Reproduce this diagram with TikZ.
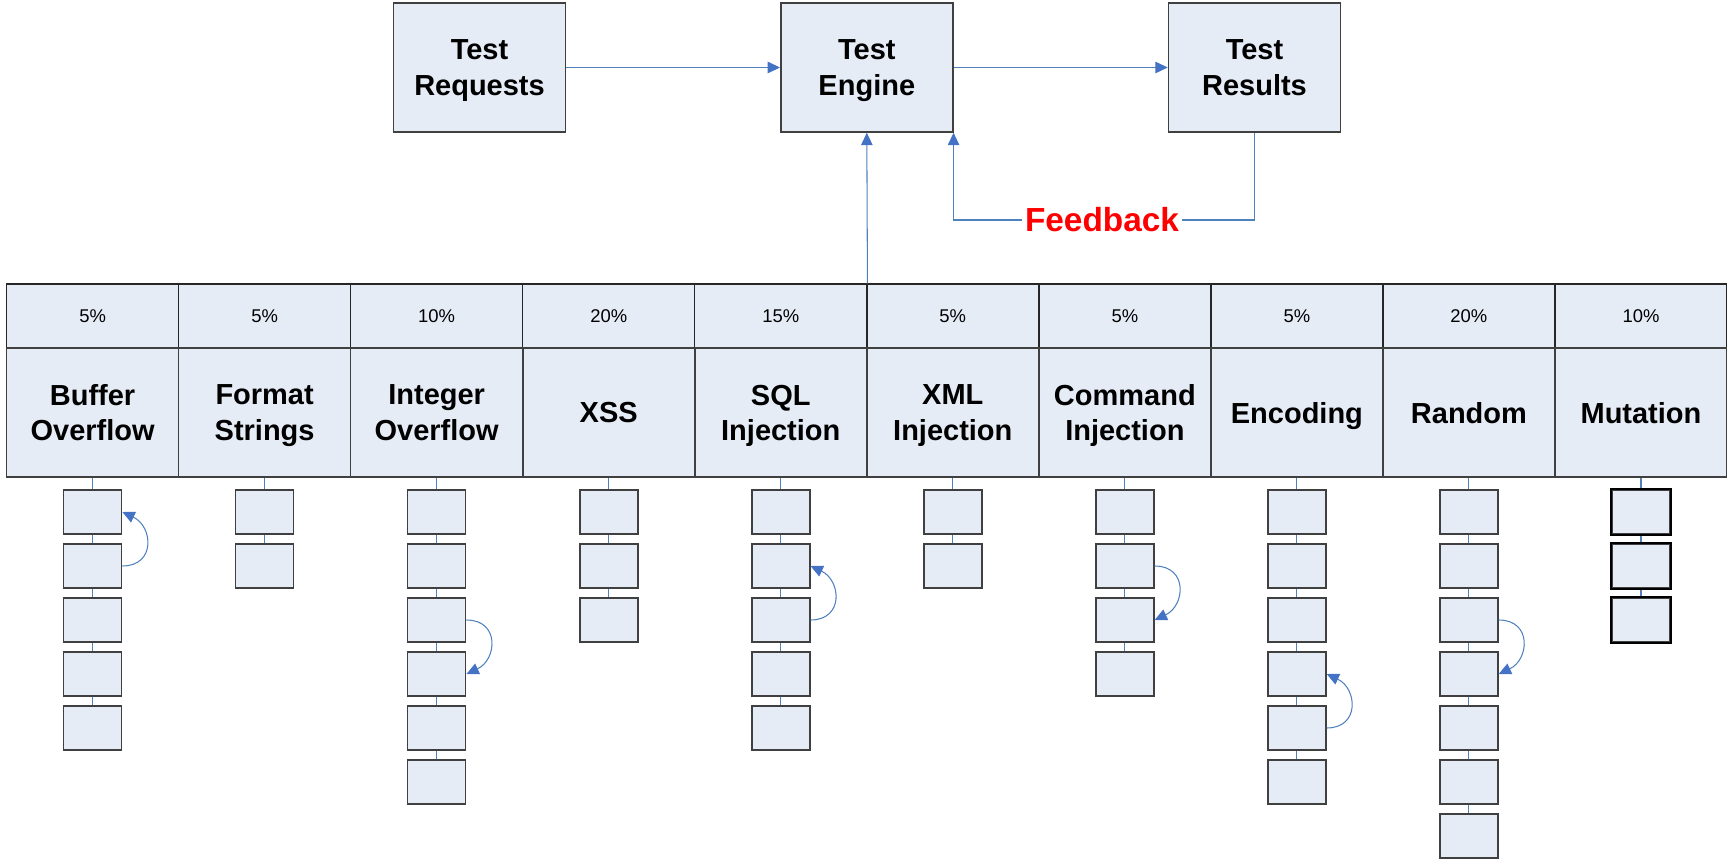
\documentclass[tikz,border=0pt]{standalone}
\usepackage{fontspec}
\setmainfont{Liberation Sans}
\usetikzlibrary{arrows.meta}

\definecolor{boxfill}{RGB}{230,236,246}
\definecolor{linkblue}{RGB}{79,129,189}
\definecolor{tipblue}{RGB}{68,114,196}

\tikzset{
 bigbox/.style={draw=black!75, fill=boxfill, line width=0.9pt, minimum width=3.44cm,
   minimum height=2.58cm, inner sep=0pt, align=center, text depth=0pt,
   font=\fontsize{16.5}{20}\selectfont\bfseries},
 pctcell/.style={draw=black!85, fill=boxfill, line width=0.8pt, minimum width=3.44cm,
   minimum height=1.28cm, inner sep=0pt, font=\fontsize{10.5}{12}\selectfont},
 subbox/.style={draw=black!75, fill=boxfill, line width=0.9pt, minimum width=1.16cm,
   minimum height=0.88cm, inner sep=0pt},
 link/.style={draw=linkblue, line width=0.6pt},
 flow/.style={link, -{Triangle[length=7pt,width=6.5pt,color=tipblue]}},
 fbtext/.style={text=red, inner sep=1.5pt, font=\fontsize{19}{22}\selectfont\bfseries},
}

\begin{document}
\begin{tikzpicture}[x=0.02cm,y=-0.02cm]
 \useasboundingbox (0,0) rectangle (1727,861);

 % top row
 \node[bigbox] (req) at (479.5,67.5) {Test\\Requests};
 \node[bigbox] (eng) at (866.8,67.5) {Test\\Engine};
 \node[bigbox] (res) at (1254.5,67.5) {Test\\Results};

 \draw[flow] (req) -- (eng);
 \draw[flow] (eng) -- (res);

 % feedback loop
 \node[fbtext] (fb) at (1102,220) {Feedback};
 \draw[link] (res.south) |- (fb.east);
 \draw[flow] (fb.west) -| (eng.south east);

 % table of test types, with their test cases below
 \foreach \pct/\name/\n [count=\i from 0] in {
   5\%/{Buffer\\Overflow}/5,
   5\%/{Format\\Strings}/2,
   10\%/{Integer\\Overflow}/6,
   20\%/{XSS}/3,
   15\%/{SQL\\Injection}/5,
   5\%/{XML\\Injection}/2,
   5\%/{Command\\Injection}/4,
   5\%/{Encoding}/6,
   20\%/{Random}/7,
   10\%/{Mutation}/3}{
  \pgfmathsetmacro\cx{92.6+172.04*\i}
  \node[pctcell] (p\i) at (\cx,316) {\pct};
  \node[bigbox] (lab\i) at (\cx,412.5) {\name};
  \foreach \k in {1,...,\n}{
   \node[subbox] (s\i-\k) at (\cx,{512+54*(\k-1)}) {};
  }
  \draw[link] (lab\i.south) -- (s\i-1.north);
  \foreach \k [remember=\k as \prev (initially 1)] in {2,...,\n}{
   \draw[link] (s\i-\prev.south) -- (s\i-\k.north);
  }
 }

 % mutation cases have darker frames
 \foreach \k in {1,2,3}
  \draw[black, line width=0.95pt] (s9-\k.south west) rectangle (s9-\k.north east);

 \draw[flow] (p4.north east) -- (eng.south);

 % reordering arrows
 \draw[flow] (s0-2.east) to[out=0,in=-25,looseness=1.6] (s0-1.east);
 \draw[flow] (s2-3.east) to[out=0,in=25,looseness=1.6] (s2-4.east);
 \draw[flow] (s4-3.east) to[out=0,in=-25,looseness=1.6] (s4-2.east);
 \draw[flow] (s6-2.east) to[out=0,in=25,looseness=1.6] (s6-3.east);
 \draw[flow] (s7-5.east) to[out=0,in=-25,looseness=1.6] (s7-4.east);
 \draw[flow] (s8-3.east) to[out=0,in=25,looseness=1.6] (s8-4.east);

\end{tikzpicture}
\end{document}
